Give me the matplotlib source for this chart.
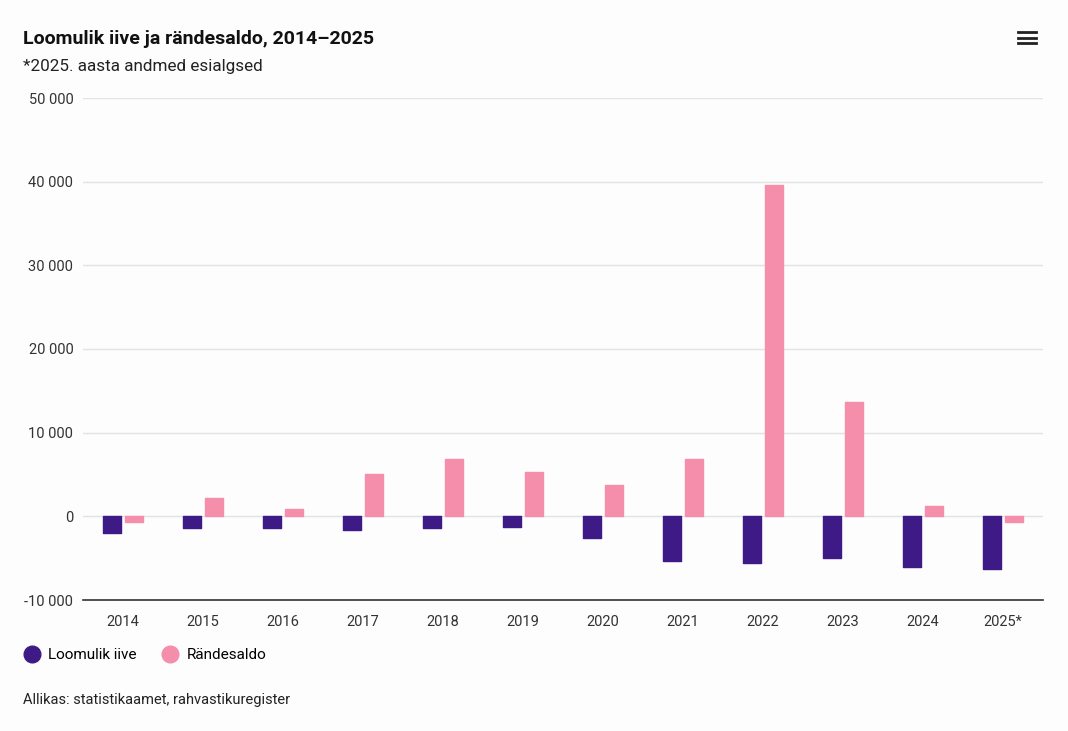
import numpy as np
import matplotlib.pyplot as plt
from matplotlib.lines import Line2D

plt.rcParams['font.family'] = ['Roboto', 'DejaVu Sans']

# data
years = ['2014', '2015', '2016', '2017', '2018', '2019',
         '2020', '2021', '2022', '2023', '2024', '2025*']
loomulik_iive = [-1950, -1400, -1400, -1670, -1400, -1240,
                 -2550, -5300, -5620, -5020, -6060, -6340]
randesaldo = [-640, 2240, 920, 5100, 6850, 5260,
              3710, 6850, 39590, 13700, 1200, -640]
yticks = [-10000, 0, 10000, 20000, 30000, 40000, 50000]

purple = '#3e1a86'
pink = '#f48eaa'
bg = '#fdfdfd'

fig = plt.figure(figsize=(10.68, 7.31), dpi=100, facecolor=bg)
ax = fig.add_axes([83 / 1068, 1 - 600 / 731, 960 / 1068, 502 / 731], facecolor=bg)

x = np.arange(len(years))
w = 0.225
ax.bar(x - 0.14, loomulik_iive, width=w, color=purple, edgecolor=purple,
       linewidth=1, joinstyle='round', zorder=3)
ax.bar(x + 0.14, randesaldo, width=w, color=pink, edgecolor=pink,
       linewidth=1, joinstyle='round', zorder=3)

ax.set_xlim(-0.5, len(years) - 0.5)
ax.set_ylim(-10000, 50000)
ax.set_yticks(yticks)
ax.set_yticklabels([f'{v:,}'.replace(',', ' ') for v in yticks])
ax.set_xticks(x)
ax.set_xticklabels(years)
ax.tick_params(axis='both', length=0, labelsize=10.5, colors='#333333')
ax.tick_params(axis='y', pad=7)
ax.tick_params(axis='x', pad=11)
ax.grid(axis='y', color='#e3e3e3', linewidth=1, zorder=0)
for s in ['top', 'right', 'left']:
    ax.spines[s].set_visible(False)
ax.spines['bottom'].set_color('#333333')
ax.spines['bottom'].set_linewidth(1.2)

# titles
fig.text(23 / 1068, 1 - 39 / 731, 'Loomulik iive ja rändesaldo, 2014–2025',
         fontsize=14, fontweight='bold', color='#111111', va='center')
fig.text(23 / 1068, 1 - 67 / 731, '*2025. aasta andmed esialgsed',
         fontsize=12.3, color='#222222', va='center')
fig.text(23 / 1068, 1 - 700 / 731, 'Allikas: statistikaamet, rahvastikuregister',
         fontsize=10.5, color='#222222', va='center')

# legend
handles = [Line2D([], [], marker='o', linestyle='none', markersize=12,
                  color=purple, label='Loomulik iive'),
           Line2D([], [], marker='o', linestyle='none', markersize=12,
                  color=pink, label='Rändesaldo')]
fig.legend(handles=handles, loc='center left', bbox_to_anchor=(24 / 1068, 1 - 655 / 731),
           ncol=2, frameon=False, fontsize=11, handletextpad=0.57,
           columnspacing=1.7, handlelength=1.0, borderpad=0, borderaxespad=0)

# menu icon
for yy in [32, 37.5, 43]:
    fig.add_artist(Line2D([1018 / 1068, 1036 / 1068], [1 - yy / 731, 1 - yy / 731],
                          color='#222222', linewidth=2))

fig.savefig('out.png', dpi=100, facecolor=bg)
